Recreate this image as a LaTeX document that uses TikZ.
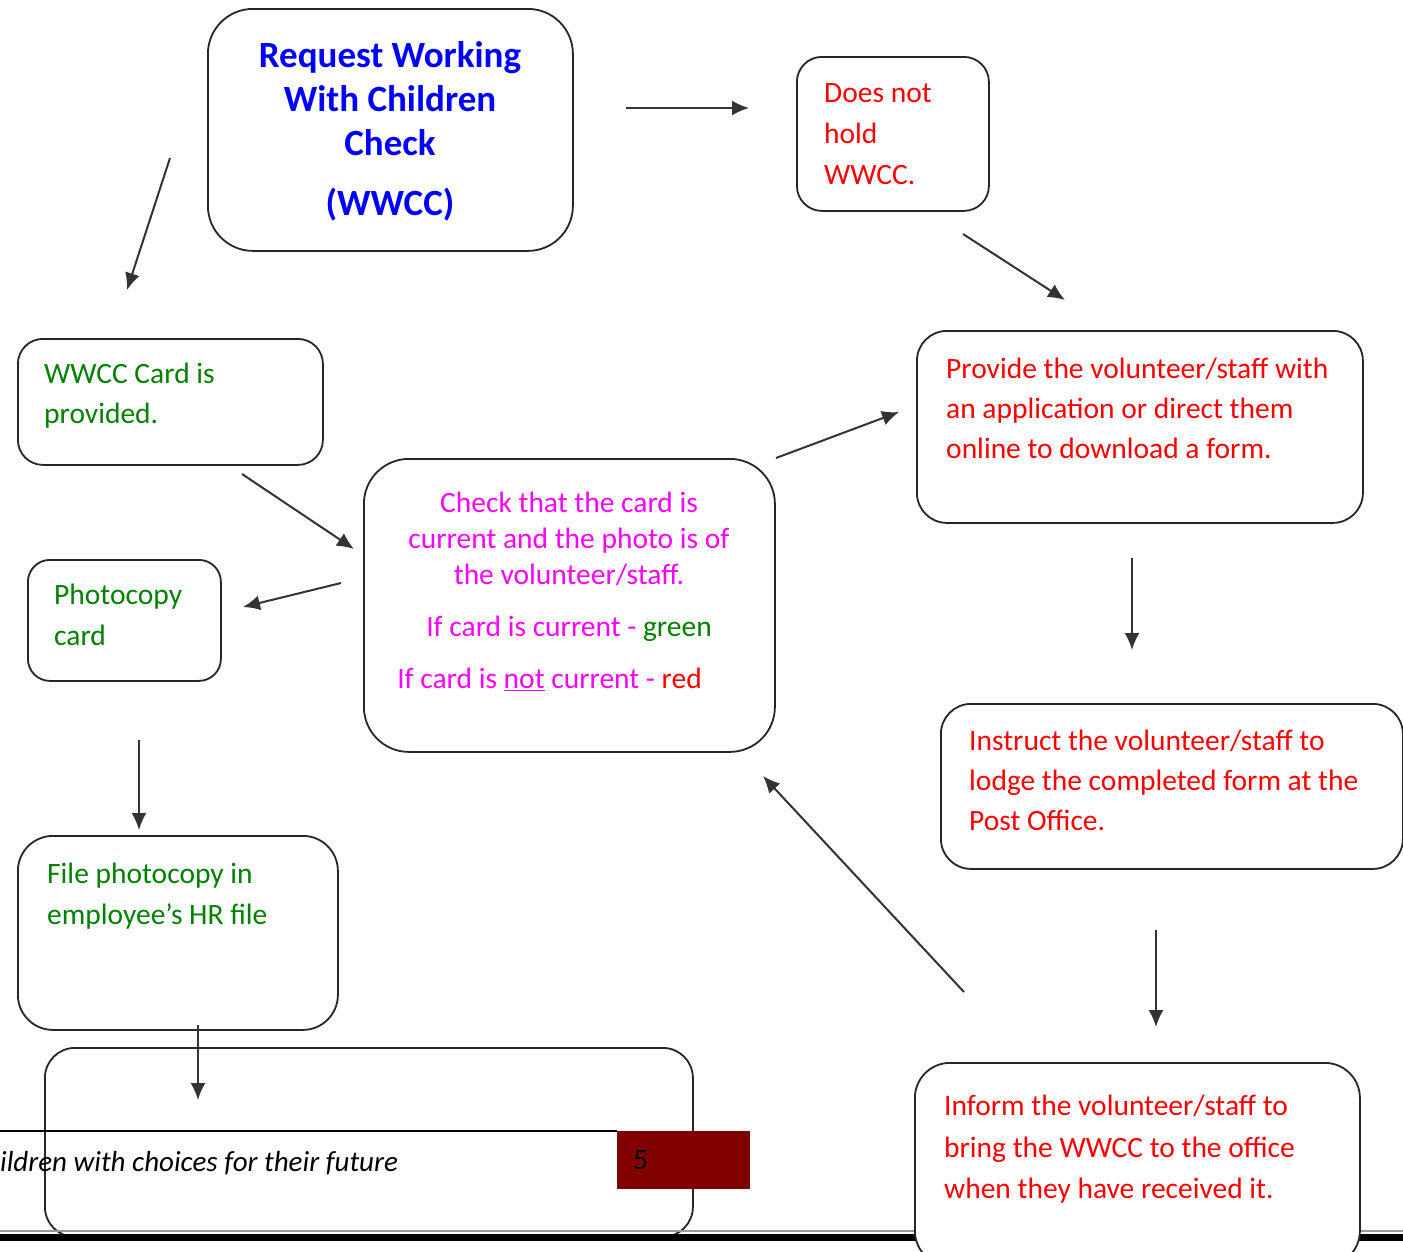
\documentclass[tikz,border=0pt]{standalone}
\usepackage{fontspec}
\setmainfont{Carlito}
\usetikzlibrary{shapes}
\usetikzlibrary{arrows.meta}

\definecolor{wwblue}{RGB}{0,0,255}
\definecolor{wwred}{RGB}{255,0,0}
\definecolor{wwgreen}{RGB}{0,128,0}
\definecolor{wwpink}{RGB}{255,0,255}
\definecolor{wwmaroon}{RGB}{128,0,0}

\begin{document}
\begin{tikzpicture}[x=1pt,y=-1pt]
	\tikzstyle{box}=[rectangle,draw=black!85,line width=1.8pt,rounded corners=30pt,fill=white,anchor=north west,inner sep=0pt]
	\tikzstyle{txt}=[anchor=north west,align=left,inner sep=0pt,font=\fontsize{29.5}{40}\selectfont]
	\tikzstyle{arr}=[-{Latex[length=17pt,width=15pt]},line width=2pt,draw=black!80]

	\useasboundingbox (0,0) rectangle (1403,1251);

	% footer
	\node[box,fill=none,minimum width=648pt,minimum height=189pt] (blank) at (44,1047) {};
	\draw[line width=1.5pt] (0,1131) -- (617,1131);
	\node[txt,anchor=west,font=\fontsize{29}{30}\selectfont\itshape] (foot) at (0,1163) {ildren with choices for their future};
	\node[fill=wwmaroon,anchor=north west,minimum width=133pt,minimum height=58pt,inner sep=0pt] (page) at (617,1131) {};
	\node[txt,anchor=west] (pagenum) at (633,1160) {5};
	\draw[line width=1.5pt,draw=black!40] (0,1231) -- (1403,1231);
	\draw[line width=7pt] (0,1237.5) -- (1403,1237.5);

	% boxes
	\node[box,rounded corners=45pt,minimum width=365pt,minimum height=242pt] (req) at (207,8) {};
	\node[box,rounded corners=25pt,minimum width=192pt,minimum height=154pt] (nohold) at (796,56) {};
	\node[box,rounded corners=25pt,minimum width=305pt,minimum height=126pt] (card) at (17,338) {};
	\node[box,minimum width=446pt,minimum height=192pt] (provide) at (916,330) {};
	\node[box,rounded corners=45pt,minimum width=411pt,minimum height=293pt] (check) at (363,458) {};
	\node[box,rounded corners=22pt,minimum width=193pt,minimum height=121pt] (photo) at (27,559) {};
	\node[box,minimum width=462pt,minimum height=165pt] (instruct) at (940,703) {};
	\node[box,rounded corners=35pt,minimum width=320pt,minimum height=194pt] (file) at (17,835) {};
	\node[box,rounded corners=35pt,minimum width=445pt,minimum height=203pt] (inform) at (914,1062) {};

	% texts
	\node[txt,anchor=north,align=center,text=wwblue,font=\fontsize{37}{44}\selectfont\bfseries] (req-t) at (390,41)
		{Request Working\\With Children\\Check\\[16pt](WWCC)};
	\node[txt,text=wwred,font=\fontsize{29.5}{41}\selectfont] (nohold-t) at (824,83) {Does not\\hold\\WWCC.};
	\node[txt,text=wwgreen] (card-t) at (44,363) {WWCC Card is\\provided.};
	\node[txt,text=wwred] (provide-t) at (946,358) {Provide the volunteer/staff with\\an application or direct them\\online to download a form.};
	\node[txt,anchor=north,align=center,text=wwpink,font=\fontsize{29.5}{36}\selectfont] (check-t) at (569,492)
		{Check that the card is\\current and the photo is of\\the volunteer/staff.\\[16pt]If card is current - \textcolor{wwgreen}{green}\\[16pt]If card is \underline{not} current - \textcolor{wwred}{red}\hspace*{39pt}};
	\node[txt,text=wwgreen,font=\fontsize{29.5}{41}\selectfont] (photo-t) at (54,584) {Photocopy\\card};
	\node[txt,text=wwred] (instruct-t) at (969,730) {Instruct the volunteer/staff to\\lodge the completed form at the\\Post Office.};
	\node[txt,text=wwgreen,font=\fontsize{29.5}{41}\selectfont] (file-t) at (47,863) {File photocopy in\\employee’s HR file};
	\node[txt,text=wwred,font=\fontsize{29.5}{41.5}\selectfont] (inform-t) at (944,1095) {Inform the volunteer/staff to\\bring the WWCC to the office\\when they have received it.};

	% arrows
	\coordinate (reqA) at (170,158);   \coordinate (cardA) at (127,290);
	\coordinate (reqB) at (626,108);   \coordinate (noholdB) at (749,108);
	\coordinate (noholdC) at (963,234); \coordinate (provideC) at (1065,300);
	\coordinate (cardD) at (242,474);  \coordinate (checkD) at (354,549);
	\coordinate (checkE) at (341,583); \coordinate (photoE) at (243,607);
	\coordinate (checkF) at (776,458); \coordinate (provideF) at (899,412);
	\coordinate (provideG) at (1132,558); \coordinate (instructG) at (1132,650);
	\coordinate (photoH) at (139,740); \coordinate (fileH) at (139,830);
	\coordinate (fileI) at (198,1025); \coordinate (blankI) at (198,1100);
	\coordinate (instructJ) at (1156,930); \coordinate (informJ) at (1156,1027);
	\coordinate (informK) at (964,992); \coordinate (checkK) at (763,776);

	\draw[arr] (reqA) -- (cardA);
	\draw[arr] (reqB) -- (noholdB);
	\draw[arr] (noholdC) -- (provideC);
	\draw[arr] (cardD) -- (checkD);
	\draw[arr] (checkE) -- (photoE);
	\draw[arr] (checkF) -- (provideF);
	\draw[arr] (provideG) -- (instructG);
	\draw[arr] (photoH) -- (fileH);
	\draw[arr] (fileI) -- (blankI);
	\draw[arr] (instructJ) -- (informJ);
	\draw[arr] (informK) -- (checkK);
\end{tikzpicture}
\end{document}
